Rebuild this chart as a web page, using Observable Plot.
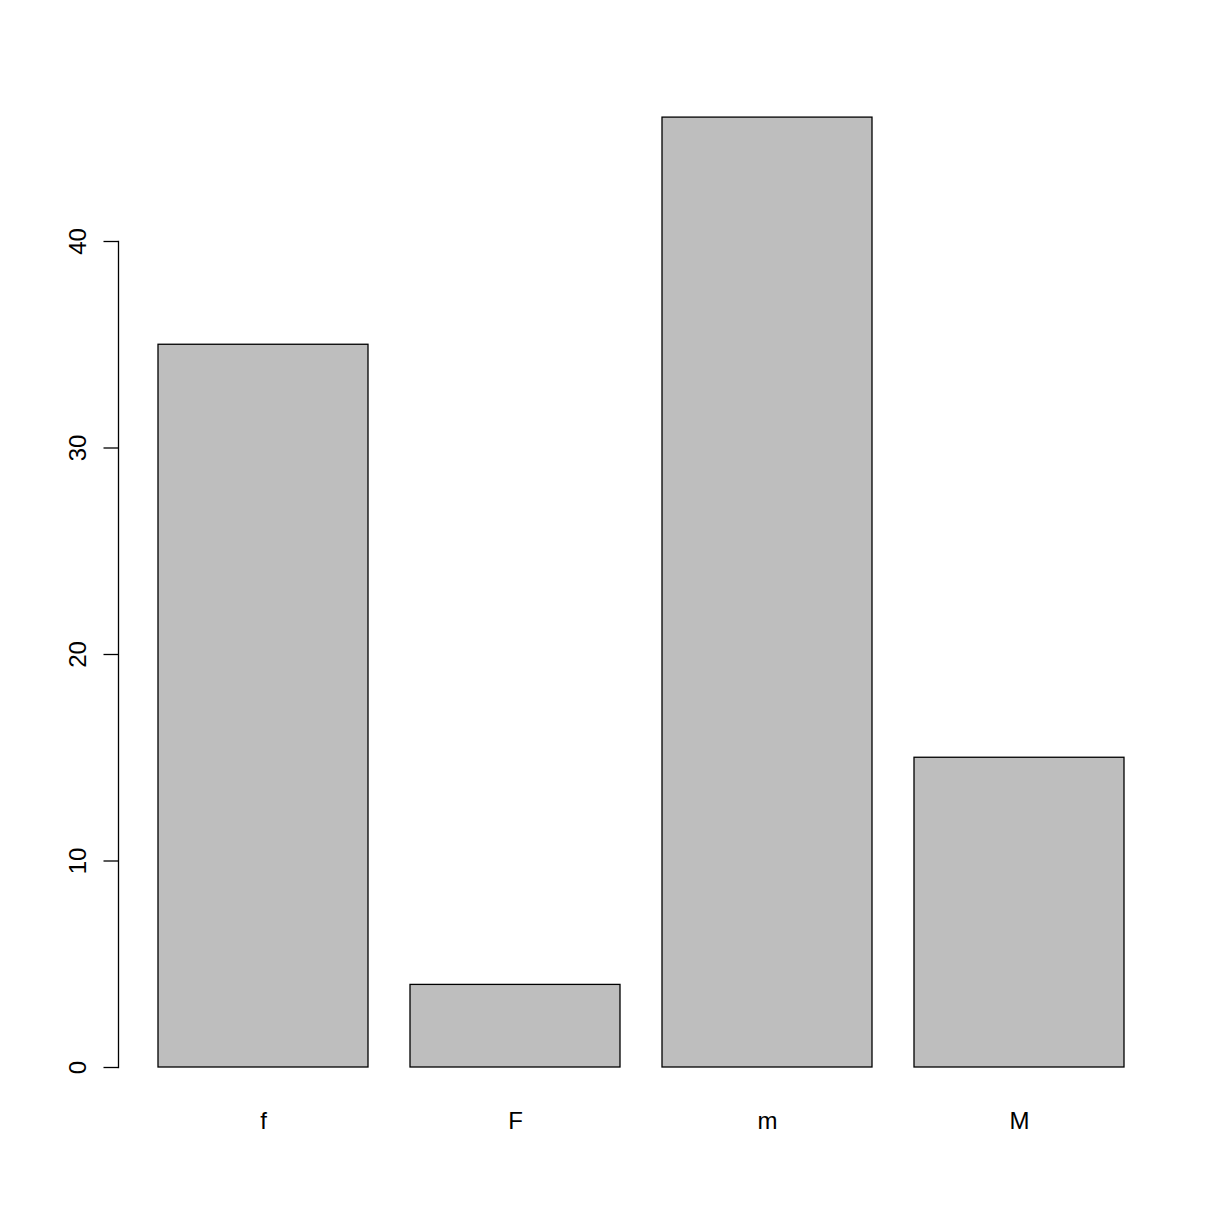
<!DOCTYPE html>
<html>
<head>
<meta charset="utf-8">
<script src="https://cdn.jsdelivr.net/npm/d3@7"></script>
<script src="https://cdn.jsdelivr.net/npm/@observablehq/plot@0.6"></script>
<style>
  html, body { margin: 0; padding: 0; background: #fff; }
</style>
</head>
<body>
<div id="chart"></div>
<script>
const categories = ["f", "F", "m", "M"];
const counts = [35, 4, 46, 15];
const yTicks = [0, 10, 20, 30, 40];

const data = categories.map((c, i) => ({category: c, count: counts[i]}));

const chart = Plot.plot({
  width: 1224,
  height: 1224,
  marginLeft: 118,
  marginRight: 61,
  marginTop: 241,
  marginBottom: 157,
  style: {fontFamily: "'Liberation Sans', Arial, Helvetica, sans-serif", fontSize: "24px", background: "#fff", color: "#000"},
  x: {domain: categories, range: [157, 1125], paddingInner: 0.2 / 1.2, paddingOuter: 0, align: 0.5},
  y: {domain: [0, 40]},
  marks: [
    Plot.barY(data, {x: "category", y: "count", fill: "#bebebe", stroke: "#000", strokeWidth: 1.3}),
    Plot.frame({anchor: "left", stroke: "#000", strokeWidth: 1.3}),
    Plot.axisY({ticks: yTicks, tickSize: 14.5, tickPadding: 18, tickRotate: -90, label: null, fontSize: 24, strokeWidth: 1.3}),
    Plot.axisX({tickSize: 0, tickPadding: 44, label: null, fontSize: 24})
  ]
});

document.getElementById("chart").appendChild(chart);
</script>
</body>
</html>
